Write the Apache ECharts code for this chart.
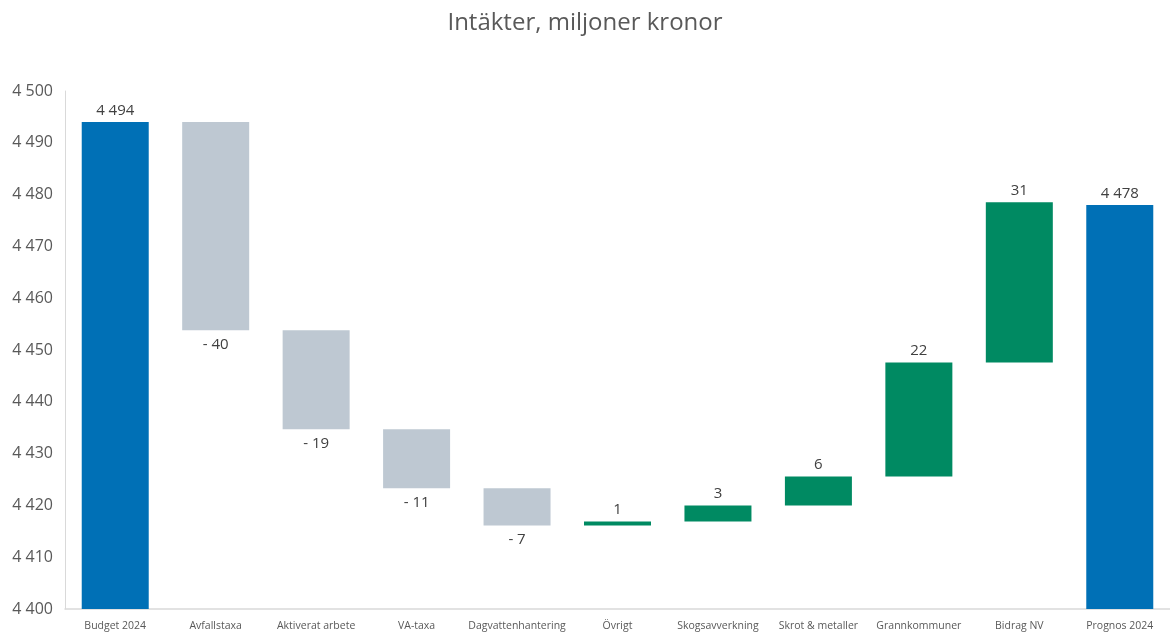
<!DOCTYPE html>
<html><head><meta charset="utf-8">
<script src="https://cdn.jsdelivr.net/npm/echarts@6/dist/echarts.min.js"></script>
<style>html,body{margin:0;padding:0;background:#fff}#c{width:1170px;height:638px}</style>
</head><body><div id="c"></div>
<script>
const categories = ['Budget 2024','Avfallstaxa','Aktiverat arbete','VA-taxa','Dagvattenhantering','Övrigt','Skogsavverkning','Skrot & metaller','Grannkommuner','Bidrag NV','Prognos 2024'];
const startValue = 4494;
const deltas = [-40.2, -19.1, -11.4, -7.2, 0.8, 3.1, 5.6, 22.0, 30.9];
const endValue = 4478;
const yTicks = {min: 4400, max: 4500, interval: 10};

const fmt = v => {
  const r = Math.round(Math.abs(v));
  const s = String(r).replace(/\B(?=(\d{3})+(?!\d))/g, ' ');
  return v < 0 ? '- ' + s : s;
};

const BLUE = '#0070B6', GRAY = '#BEC8D2', GREEN = '#008A62';
const baseData = [], barData = [];
baseData.push(yTicks.min);
barData.push({value: startValue - yTicks.min, label: {show: true, position: 'top', formatter: fmt(startValue)}, itemStyle: {color: BLUE}});
let run = startValue;
deltas.forEach(d => {
  const lo = Math.min(run, run + d);
  baseData.push(lo);
  barData.push({value: Math.abs(d), label: {show: true, position: d < 0 ? 'bottom' : 'top', distance: d < 0 ? 7 : 4, formatter: fmt(d)}, itemStyle: {color: d < 0 ? GRAY : GREEN}});
  run += d;
});
baseData.push(yTicks.min);
barData.push({value: endValue - yTicks.min, label: {show: true, position: 'top', formatter: fmt(endValue)}, itemStyle: {color: BLUE}});

const chart = echarts.init(document.getElementById('c'));
chart.setOption({
  animation: false,
  title: {text: 'Intäkter, miljoner kronor', left: 'center', top: 6,
    textStyle: {fontFamily: 'Open Sans', fontSize: 24, fontWeight: 'normal', color: '#595959'}},
  grid: {left: 65, right: 0, top: 91, bottom: 29},
  xAxis: {type: 'category', data: categories,
    axisLine: {lineStyle: {color: '#D9D9D9', width: 1.5}}, axisTick: {show: false},
    axisLabel: {interval: 0, color: '#595959', fontFamily: 'Open Sans', fontSize: 10.5, margin: 12}},
  yAxis: {type: 'value', min: yTicks.min, max: yTicks.max, interval: yTicks.interval,
    axisLine: {show: true, lineStyle: {color: '#D9D9D9', width: 1}}, axisTick: {show: false}, splitLine: {show: false},
    axisLabel: {color: '#595959', fontFamily: 'Open Sans', fontSize: 16, margin: 12, formatter: v => fmt(v)}},
  series: [
    {type: 'bar', stack: 'w', data: baseData, itemStyle: {color: 'transparent'}, silent: true, barWidth: 67},
    {type: 'bar', stack: 'w', data: barData, barWidth: 67,
      label: {color: '#404040', fontFamily: 'Open Sans', fontSize: 15, distance: 4}}
  ]
});
</script></body></html>
